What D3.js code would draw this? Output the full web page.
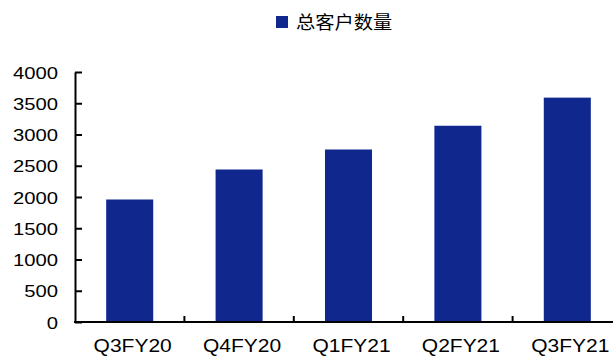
<!DOCTYPE html>
<html>
<head>
<meta charset="utf-8">
<script src="https://cdn.jsdelivr.net/npm/d3@7"></script>
<style>
  html, body { margin: 0; padding: 0; background: #fff; }
  svg { display: block; }
</style>
</head>
<body>
<svg id="chart" width="613" height="356"></svg>
<script>
// Quarterly total customer count
const quarters = ["Q3FY20", "Q4FY20", "Q1FY21", "Q2FY21", "Q3FY21"];
const customers = [1960, 2440, 2760, 3140, 3590];
const yTicks = [0, 500, 1000, 1500, 2000, 2500, 3000, 3500, 4000];
const seriesName = "总客户数量";

const W = 613, H = 356;
const barColor = "#10288e";
const textFont = "'Liberation Sans', Arial, sans-serif";
const cjkFont = "'Noto Sans CJK SC', 'Noto Sans', sans-serif";
const stretch = 1.19; // type is set slightly wide

const plot = { left: 75, top: 72, bottom: 322, right: 75 + 5 * 109.4 };

const svg = d3.select("#chart");

const x = d3.scaleBand()
  .domain(quarters)
  .range([plot.left, plot.right])
  .paddingInner(0.57)
  .paddingOuter(0.285);

const y = d3.scaleLinear()
  .domain([0, 4000])
  .range([plot.bottom, plot.top]);

// Bars
svg.append("g")
  .selectAll("rect")
  .data(quarters.map((q, i) => ({ q, v: customers[i] })))
  .join("rect")
  .attr("x", d => x(d.q))
  .attr("y", d => y(d.v))
  .attr("width", x.bandwidth())
  .attr("height", d => y(0) - y(d.v))
  .attr("fill", barColor);

// Y axis: inward ticks, labels on the left
const yAxis = svg.append("g")
  .attr("transform", `translate(${plot.left},0)`)
  .call(d3.axisLeft(y).tickValues(yTicks).tickSize(-7).tickSizeOuter(0).tickFormat(d3.format("d")));
yAxis.select(".domain").attr("stroke", "#000").attr("stroke-width", 2);
yAxis.selectAll(".tick line").attr("stroke", "#000").attr("stroke-width", 2);
yAxis.selectAll(".tick text")
  .attr("x", 0)
  .attr("dy", "0.36em")
  .attr("transform", `translate(-17,0) scale(${stretch},1)`)
  .attr("fill", "#000")
  .style("font-family", textFont)
  .style("font-size", "17px");

// X axis: category labels under each band
const xAxis = svg.append("g")
  .attr("transform", `translate(0,${plot.bottom})`)
  .call(d3.axisBottom(x).tickSize(0).tickSizeOuter(0));
xAxis.select(".domain").remove();
xAxis.selectAll(".tick text")
  .attr("y", 0)
  .attr("dy", 0)
  .attr("transform", `translate(3,30) scale(1.2,1)`)
  .attr("fill", "#000")
  .style("font-family", textFont)
  .style("font-size", "17.5px");

// Baseline and band-boundary tick marks
svg.append("line")
  .attr("x1", plot.left - 1).attr("x2", W)
  .attr("y1", plot.bottom).attr("y2", plot.bottom)
  .attr("stroke", "#000").attr("stroke-width", 2);
const step = x.step();
const bounds = d3.range(1, quarters.length).map(i => x(quarters[i]) - step * x.paddingInner() / 2);
svg.append("g")
  .selectAll("line")
  .data(bounds)
  .join("line")
  .attr("x1", d => d).attr("x2", d => d)
  .attr("y1", plot.bottom).attr("y2", plot.bottom - 6)
  .attr("stroke", "#000").attr("stroke-width", 2);

// Legend
const legend = svg.append("g").attr("transform", "translate(276,16)");
legend.append("rect")
  .attr("width", 12).attr("height", 12)
  .attr("fill", barColor);
legend.append("text")
  .attr("x", 0).attr("y", 0)
  .attr("transform", `translate(20,12.5) scale(1.07,1)`)
  .attr("fill", "#000")
  .style("font-family", cjkFont)
  .style("font-size", "18px")
  .text(seriesName);
</script>
</body>
</html>
